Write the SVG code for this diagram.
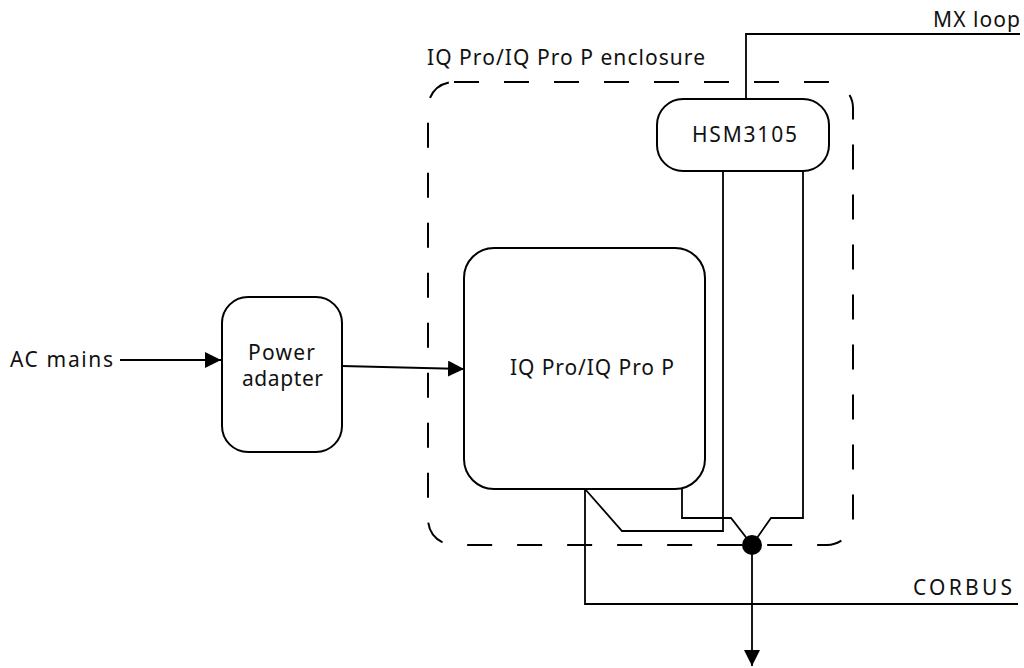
<svg xmlns="http://www.w3.org/2000/svg" width="1024" height="668" viewBox="0 0 1024 668">
  <defs>
    <style>
      .box { fill: #ffffff; stroke: #000000; stroke-width: 2; }
      .encl { fill: none; stroke: #000000; stroke-width: 2; stroke-dasharray: 25 25; }
      .wire { fill: none; stroke: #000000; stroke-width: 1.8; }
      .lbl { font-family: "Noto Sans", "Open Sans", sans-serif; font-size: 21px; fill: #111111; }
    </style>
    <marker id="arrow" viewBox="0 0 16 16" refX="16" refY="8" markerWidth="16" markerHeight="16" markerUnits="userSpaceOnUse" orient="auto">
      <path d="M0,0 L16,8 L0,16 Z" fill="#000000"/>
    </marker>
  </defs>
  <rect width="1024" height="668" fill="#ffffff"/>

  <g id="enclosure">
    <rect class="encl" x="428" y="82" width="425" height="463" rx="26" ry="26"/>
    <text class="lbl" x="427" y="65" textLength="278" lengthAdjust="spacing">IQ Pro/IQ Pro P enclosure</text>
  </g>

  <g id="connectors">
    <line class="wire" x1="120" y1="360" x2="221" y2="360" marker-end="url(#arrow)"/>
    <line class="wire" x1="342" y1="366" x2="464" y2="369" marker-end="url(#arrow)"/>
    <polyline class="wire" points="746,99 746,34 1020,34"/>
    <polyline class="wire" points="723,171 723,531 622,531 585,489"/>
    <polyline class="wire" points="585,489 585,604 1018,604"/>
    <polyline class="wire" points="682,489 682,518 731,518 752,545"/>
    <polyline class="wire" points="803,171 803,518 771,518 752,545"/>
    <line class="wire" x1="752" y1="545" x2="752" y2="666" marker-end="url(#arrow)"/>
    <circle cx="752" cy="545" r="10" fill="#000000"/>
  </g>

  <g id="power-adapter">
    <rect class="box" x="222" y="297" width="120" height="155" rx="26" ry="26"/>
    <text class="lbl" x="248" y="360" textLength="67" lengthAdjust="spacing">Power</text>
    <text class="lbl" x="242" y="386" textLength="81" lengthAdjust="spacing">adapter</text>
  </g>

  <g id="iq-pro">
    <rect class="box" x="464" y="248" width="241" height="241" rx="30" ry="30"/>
    <text class="lbl" x="510" y="375" textLength="164" lengthAdjust="spacing">IQ Pro/IQ Pro P</text>
  </g>

  <g id="hsm3105">
    <rect class="box" x="657" y="99" width="172" height="72" rx="26" ry="26"/>
    <text class="lbl" x="692" y="142" textLength="105" lengthAdjust="spacing">HSM3105</text>
  </g>

  <g id="labels">
    <text class="lbl" x="10" y="367" textLength="103" lengthAdjust="spacing">AC mains</text>
    <text class="lbl" x="933" y="27" textLength="87" lengthAdjust="spacing">MX loop</text>
    <text class="lbl" x="913" y="595" textLength="99" lengthAdjust="spacing">CORBUS</text>
  </g>
</svg>
